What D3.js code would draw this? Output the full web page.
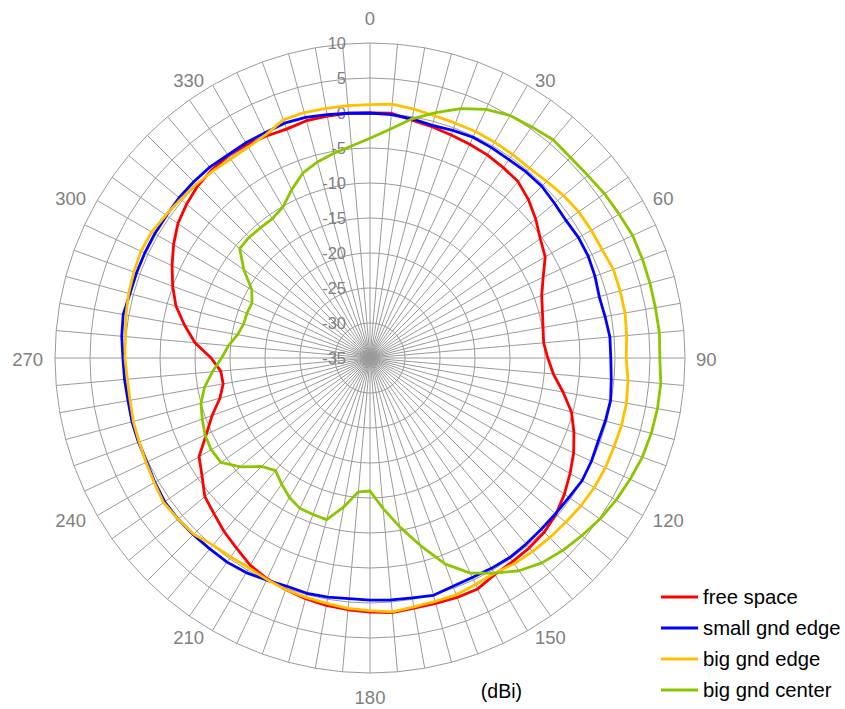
<!DOCTYPE html>
<html>
<head>
<meta charset="utf-8">
<script src="https://cdn.jsdelivr.net/npm/d3@7"></script>
<style>
  html, body { margin: 0; padding: 0; background: #fff; }
  svg { display: block; font-family: "Liberation Sans", Arial, sans-serif; }
</style>
</head>
<body>
<svg id="chart" width="845" height="709"></svg>
<script>
// Azimuth angles (degrees, clockwise from top)
const angles = d3.range(0, 360, 5);

// Angle labels shown around the rim
const angleTicks = [0, 30, 60, 90, 120, 150, 180, 210, 240, 270, 300, 330];

// Radial gain ticks (dBi)
const gainTicks = [-35, -30, -25, -20, -15, -10, -5, 0, 5, 10];

// Series names
const seriesNames = ["free space", "small gnd edge", "big gnd edge", "big gnd center"];

// Gain (dBi) per 5 degrees, one value per angle
const freeSpace = [
  0.0, 0.1, -0.5, -0.8, -1.1, -1.3, -1.5, -1.8, -2.1, -3.0, -4.1, -5.3,
  -6.1, -7.7, -8.9, -9.5, -9.9, -10.1, -9.6, -8.7, -7.0, -5.2, -4.0, -2.9,
  -2.0, -1.1, -0.3, 0.2, 0.4, 0.5, 0.7, 1.4, 1.4, 1.3, 1.3, 1.5,
  1.3, 1.1, 0.9, 0.6, 0.2, -0.2, -0.8, -1.8, -2.6, -3.5, -4.2, -5.7,
  -6.8, -9.2, -11.0, -12.8, -13.7, -13.6, -12.3, -9.9, -8.1, -6.3, -5.0, -3.8,
  -2.6, -1.5, -0.8, -0.2, 0.1, 0.3, 0.2, 0.0, -0.2, 0.1, 0.1, 0.1
];
const smallGndEdge = [
  0.0, -0.1, -0.3, -0.6, -0.4, -0.2, -0.3, -0.4, -0.3, -0.3, -0.6, -0.8,
  -0.6, -0.6, -0.8, -1.1, -0.9, -0.6, -0.6, -0.4, -0.1, -0.2, -0.3, -0.1,
  0.0, -0.3, -0.4, -0.4, -0.3, -0.2, -0.3, -0.4, -0.3, 0.1, -0.2, -0.3,
  -0.4, -0.5, -0.3, -0.2, -0.3, 0.0, 0.4, 0.6, 0.6, 0.7, 0.8, 0.8,
  0.5, 0.2, 0.2, 0.2, 0.1, 0.2, 0.3, 0.6, 0.8, 0.5, 0.5, 0.5,
  0.5, 0.5, 0.6, 0.6, 0.6, 0.4, 0.5, 0.5, 0.7, 0.6, 0.3, 0.1
];
const bigGndEdge = [
  1.2, 1.4, 1.1, 0.8, 0.7, 0.7, 0.6, 0.5, 0.4, 0.7, 1.1, 1.4,
  1.5, 1.6, 2.0, 2.0, 2.0, 1.8, 1.6, 2.0, 2.2, 2.2, 2.1, 2.1,
  2.0, 1.8, 1.5, 1.3, 1.1, 0.9, 0.5, 0.7, 1.0, 1.0, 1.1, 1.4,
  1.1, 0.9, 0.6, 0.4, 0.2, -0.1, -0.4, -0.3, -0.1, 0.6, 0.8, 1.0,
  0.6, 0.3, 0.1, 0.0, -0.2, -0.2, 0.0, 0.1, 0.4, 0.7, 0.9, 1.1,
  1.0, 0.6, 0.3, 0.1, -0.1, -0.3, -0.2, 0.2, 1.2, 1.3, 1.2, 1.2
];
const bigGndCenter = [
  -3.6, -2.2, -0.3, 1.3, 2.9, 4.2, 5.0, 5.3, 5.7, 5.5, 5.6, 5.9,
  6.1, 6.4, 6.4, 6.4, 6.4, 6.5, 6.4, 6.7, 6.7, 6.6, 6.4, 6.0,
  5.6, 5.1, 4.5, 3.9, 3.2, 2.1, 0.5, -1.1, -3.7, -7.3, -10.5, -13.4,
  -16.0, -15.8, -13.4, -11.1, -11.2, -11.3, -12.0, -13.0, -14.0, -13.1, -10.8, -9.0,
  -8.8, -9.0, -9.5, -10.0, -11.0, -12.4, -13.8, -14.7, -15.8, -16.3, -16.3, -16.4,
  -15.5, -13.0, -10.7, -10.6, -10.7, -10.7, -10.1, -8.5, -6.9, -6.0, -5.3, -4.6
];

const seriesValues = [freeSpace, smallGndEdge, bigGndEdge, bigGndCenter];
const seriesColors = ["#ff0000", "#0000ff", "#ffc000", "#8cc600"];

const svg = d3.select("#chart");
const cx = 370, cy = 358, outerR = 315;
const gridColor = "#9a9a9a";
const labelColor = "#808080";

const r = d3.scaleLinear().domain([-35, 10]).range([0, outerR]);
const toRad = d => d * Math.PI / 180;

const g = svg.append("g").attr("transform", `translate(${cx},${cy})`);

// Polygonal rings, one vertex per spoke
const ringLine = d3.lineRadial()
  .angle(d => toRad(d.a))
  .radius(d => r(d.v))
  .curve(d3.curveLinearClosed);

g.append("g").selectAll("path")
  .data(gainTicks.filter(t => t > -35))
  .join("path")
  .attr("d", t => ringLine(angles.map(a => ({ a, v: t }))))
  .attr("fill", "none")
  .attr("stroke", gridColor)
  .attr("stroke-width", 1);

// Spokes
g.append("g").selectAll("line")
  .data(angles)
  .join("line")
  .attr("x1", 0).attr("y1", 0)
  .attr("x2", a => r(10) * Math.sin(toRad(a)))
  .attr("y2", a => -r(10) * Math.cos(toRad(a)))
  .attr("stroke", gridColor)
  .attr("stroke-width", 1);

// Gain tick labels along the 0-degree spoke
g.append("g").selectAll("text")
  .data(gainTicks)
  .join("text")
  .attr("x", -24)
  .attr("y", t => -r(t))
  .attr("text-anchor", "end")
  .attr("dominant-baseline", "central")
  .attr("font-size", 16.5)
  .attr("fill", labelColor)
  .text(t => t);

// Angle labels around the rim
const labelR = 322;
g.append("g").selectAll("text")
  .data(angleTicks)
  .join("text")
  .attr("x", a => {
    const s = Math.sin(toRad(a));
    if (Math.abs(s) < 0.01) return 0;
    return labelR * s + (s > 0 ? 4 : -5);
  })
  .attr("y", a => {
    if (a === 0) return -340;
    if (a === 180) return 339;
    return -labelR * Math.cos(toRad(a)) + 1;
  })
  .attr("text-anchor", a => {
    const s = Math.sin(toRad(a));
    return Math.abs(s) < 0.01 ? "middle" : (s > 0 ? "start" : "end");
  })
  .attr("dominant-baseline", "central")
  .attr("font-size", 18.5)
  .attr("fill", labelColor)
  .text(a => a);

// Series traces
const seriesLine = d3.lineRadial()
  .angle((d, i) => toRad(angles[i]))
  .radius(d => r(d))
  .curve(d3.curveLinearClosed);

g.append("g").selectAll("path")
  .data(seriesValues)
  .join("path")
  .attr("d", vals => seriesLine(vals))
  .attr("fill", "none")
  .attr("stroke", (d, i) => seriesColors[i])
  .attr("stroke-width", 2.8)
  .attr("stroke-linejoin", "round");

// Legend
const legend = svg.append("g").attr("transform", "translate(661,597)");
const items = legend.selectAll("g")
  .data(seriesNames)
  .join("g")
  .attr("transform", (d, i) => `translate(0,${i * 31})`);
items.append("line")
  .attr("x1", 0).attr("x2", 37)
  .attr("y1", 0).attr("y2", 0)
  .attr("stroke", (d, i) => seriesColors[i])
  .attr("stroke-width", 2.8);
items.append("text")
  .attr("x", 42)
  .attr("y", 0)
  .attr("dominant-baseline", "central")
  .attr("font-size", 20.3)
  .attr("fill", "#000")
  .text(d => d);

// Unit label
svg.append("text")
  .attr("x", 522)
  .attr("y", 691)
  .attr("text-anchor", "end")
  .attr("dominant-baseline", "central")
  .attr("font-size", 19.5)
  .attr("fill", "#000")
  .text("(dBi)");
</script>
</body>
</html>
